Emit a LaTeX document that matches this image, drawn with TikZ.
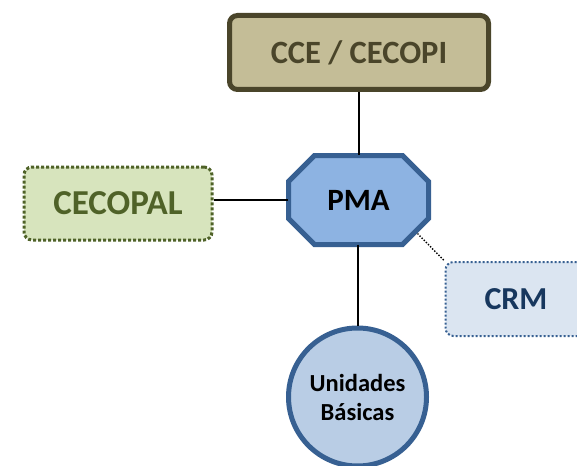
\documentclass[tikz,border=0pt]{standalone}
\usepackage{fontspec}
\setmainfont{Carlito}
\definecolor{tanfill}{HTML}{C4BD97}
\definecolor{tandark}{HTML}{4A452A}
\definecolor{grnfill}{HTML}{D7E4BD}
\definecolor{grndark}{HTML}{4F6228}
\definecolor{bluefill}{HTML}{8DB3E2}
\definecolor{bluedark}{HTML}{376092}
\definecolor{palefill}{HTML}{DBE5F1}
\definecolor{navy}{HTML}{17375E}
\definecolor{circfill}{HTML}{B9CDE5}
\begin{document}
\begin{tikzpicture}[x=1pt,y=-1pt,
  conn/.style={draw=black,line width=2pt},
  boxbase/.style={rounded corners=8pt,inner sep=0pt}
]
\useasboundingbox (0,0) rectangle (577,465);
\clip (0,0) rectangle (577,465);
\node[boxbase,draw=tandark,fill=tanfill,text=tandark,line width=5pt,
  font=\fontsize{32.5}{38}\selectfont\bfseries,
  minimum width=259pt,minimum height=74pt] (cce) at (359,52.5) {CCE / CECOPI};
% octagon
\draw[draw=bluedark,fill=bluefill,line width=5pt,line join=miter]
  (314.5,155.5) -- (402.5,155.5) -- (428.5,181.5) -- (428.5,218.5) -- (402.5,244.5)
  -- (314.5,244.5) -- (288.5,218.5) -- (288.5,181.5) -- cycle;
\node[minimum width=140pt,minimum height=89pt,inner sep=0pt,
  font=\fontsize{31}{37}\selectfont\bfseries,text=black] (pma) at (358.5,200) {PMA};
\coordinate (pmase) at (417.5,233.5);
\node[boxbase,draw=grndark,fill=grnfill,text=grndark,line width=3pt,
  font=\fontsize{35}{40}\selectfont\bfseries,
  dash pattern=on 3pt off 2pt,minimum width=188pt,minimum height=73pt] (cecopal) at (118,203.5) {CECOPAL};
\node[boxbase,draw=bluedark,fill=palefill,line width=2pt,
  dash pattern=on 2pt off 2pt,minimum width=155pt,minimum height=74pt] (crm) at (523,299) {};
\node[text=navy,font=\fontsize{32}{37}\selectfont\bfseries] (crmtext) at ([xshift=-7pt]crm.center) {CRM};
\node[circle,draw=bluedark,fill=circfill,line width=5pt,minimum size=138pt,inner sep=0pt,
  align=center,font=\fontsize{24.5}{29}\selectfont\bfseries] (ub) at (357.5,397) {Unidades\\Básicas};
\draw[conn] (cce.south) -- (cce.south |- pma.north);
\draw[conn] (pma.west) -- (pma.west -| cecopal.east);
\draw[conn] (ub.north |- pma.south) -- (ub.north);
\draw[black,line width=1.4pt,dash pattern=on 1.4pt off 1.6pt] (pmase) -- (crm.north west);
\end{tikzpicture}
\end{document}
